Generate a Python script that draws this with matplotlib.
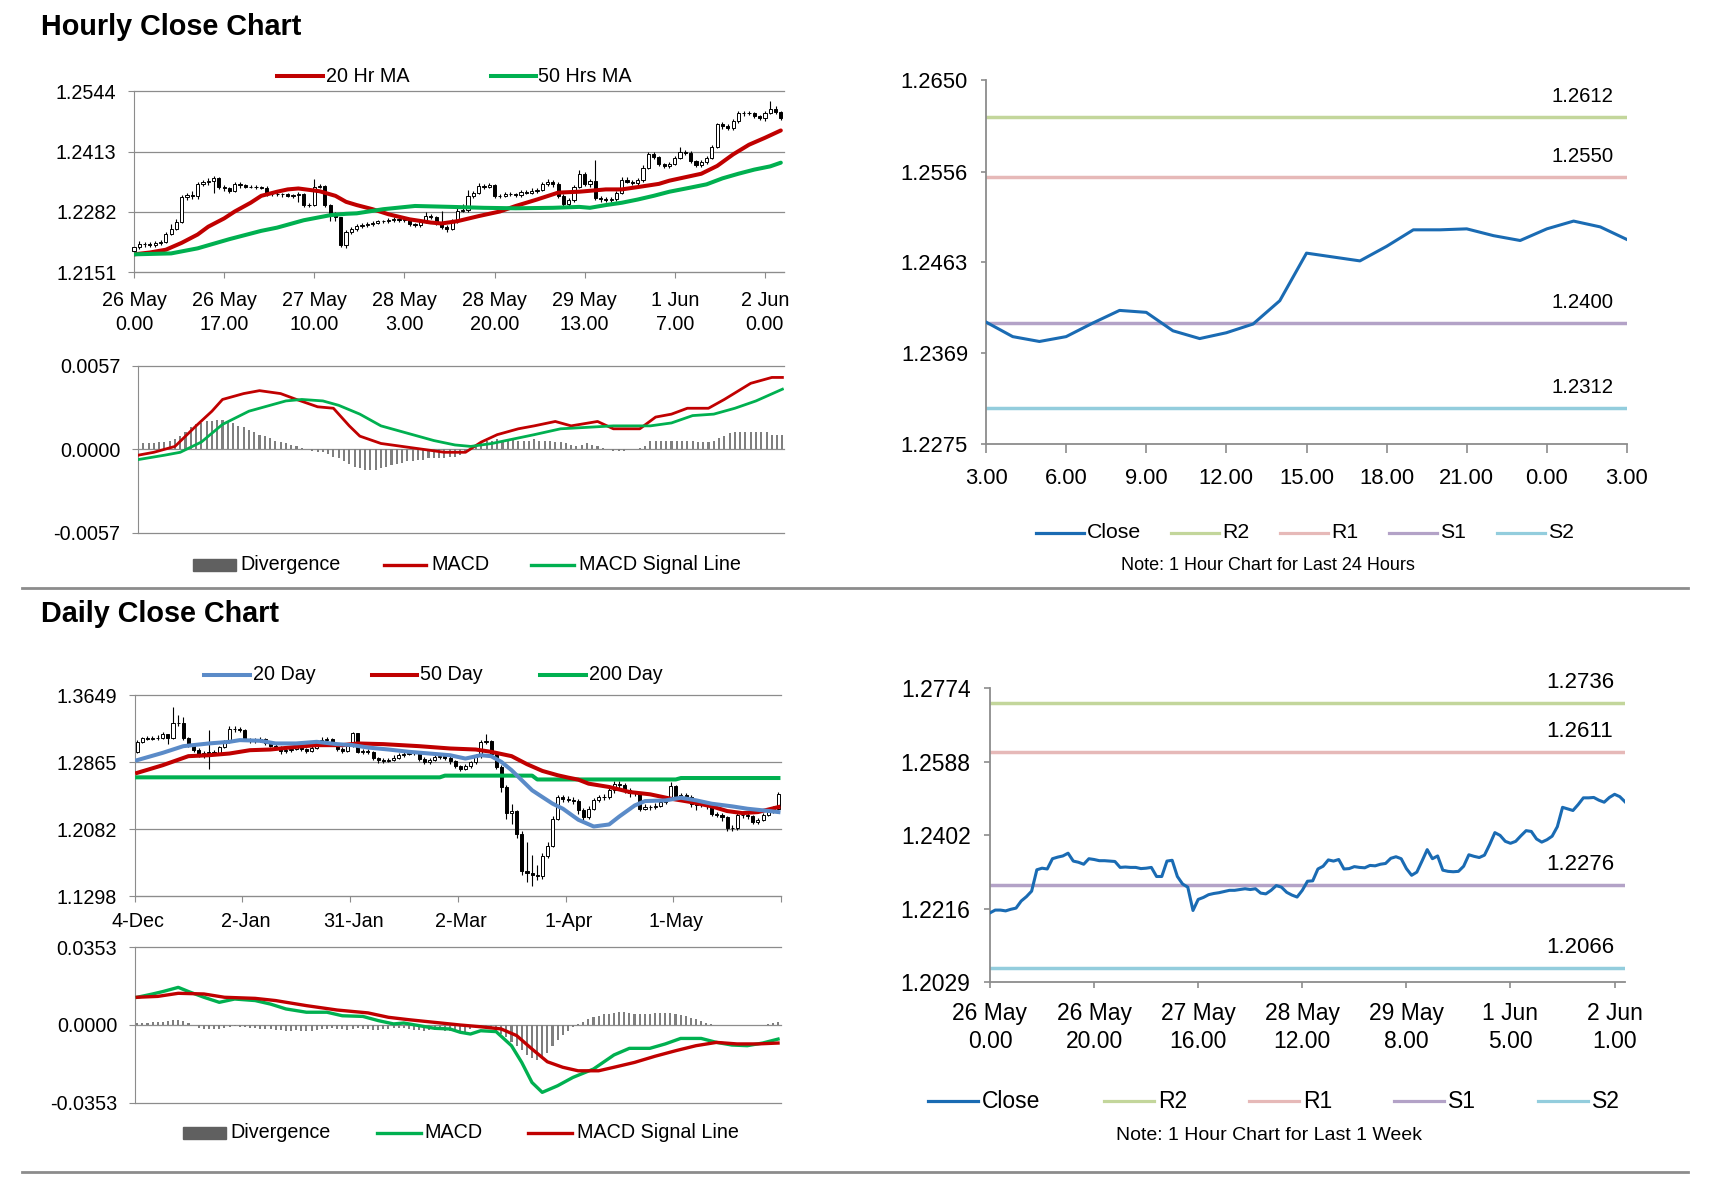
import numpy as np
import matplotlib
matplotlib.use("Agg")
import matplotlib.pyplot as plt
from matplotlib.lines import Line2D
from matplotlib.patches import Rectangle

plt.rcParams['font.family'] = ['Liberation Sans', 'DejaVu Sans']

# -----------------------------
# Hourly candles (26 May 0.00 -> 2 Jun 3.00)
# -----------------------------
hr_open = [
    1.2198, 1.2205, 1.2212, 1.2212, 1.2210, 1.2214, 1.2217, 1.2235, 1.2246, 1.2260,
    1.2314, 1.2318, 1.2316, 1.2342, 1.2346, 1.2349, 1.2356, 1.2336, 1.2333, 1.2328,
    1.2342, 1.2340, 1.2337, 1.2337, 1.2336, 1.2335, 1.2320, 1.2321, 1.2320, 1.2320,
    1.2317, 1.2318, 1.2320, 1.2297, 1.2297, 1.2336, 1.2338, 1.2297, 1.2278, 1.2270,
    1.2211, 1.2239, 1.2244, 1.2251, 1.2254, 1.2256, 1.2259, 1.2262, 1.2262, 1.2264,
    1.2266, 1.2264, 1.2266, 1.2255, 1.2253, 1.2262, 1.2274, 1.2270, 1.2257, 1.2250,
    1.2245, 1.2262, 1.2285, 1.2286, 1.2316, 1.2323, 1.2339, 1.2336, 1.2340, 1.2316,
    1.2317, 1.2322, 1.2320, 1.2319, 1.2325, 1.2324, 1.2328, 1.2330, 1.2343, 1.2347,
    1.2342, 1.2317, 1.2300, 1.2308, 1.2336, 1.2365, 1.2342, 1.2349, 1.2313, 1.2310,
    1.2309, 1.2310, 1.2323, 1.2352, 1.2348, 1.2345, 1.2351, 1.2378, 1.2408, 1.2401,
    1.2386, 1.2381, 1.2386, 1.2400, 1.2413, 1.2411, 1.2392, 1.2384, 1.2390, 1.2399,
    1.2423, 1.2472, 1.2468, 1.2464, 1.2479, 1.2496, 1.2496, 1.2497, 1.2490, 1.2485,
    1.2497, 1.2505, 1.2499]
hr_high = [
    1.2209, 1.2218, 1.2217, 1.2216, 1.2219, 1.2222, 1.2239, 1.2255, 1.2266, 1.2318,
    1.2324, 1.2327, 1.2347, 1.2351, 1.2355, 1.2360, 1.2359, 1.2340, 1.2337, 1.2346,
    1.2346, 1.2343, 1.2341, 1.2340, 1.2339, 1.2338, 1.2325, 1.2325, 1.2324, 1.2323,
    1.2322, 1.2325, 1.2323, 1.2301, 1.2354, 1.2343, 1.2341, 1.2300, 1.2281, 1.2272,
    1.2243, 1.2249, 1.2256, 1.2259, 1.2261, 1.2263, 1.2265, 1.2265, 1.2268, 1.2270,
    1.2269, 1.2270, 1.2268, 1.2258, 1.2266, 1.2282, 1.2278, 1.2273, 1.2284, 1.2253,
    1.2266, 1.2290, 1.2300, 1.2330, 1.2328, 1.2344, 1.2343, 1.2345, 1.2343, 1.2321,
    1.2326, 1.2325, 1.2324, 1.2329, 1.2330, 1.2333, 1.2335, 1.2348, 1.2354, 1.2351,
    1.2346, 1.2320, 1.2312, 1.2340, 1.2374, 1.2368, 1.2354, 1.2394, 1.2317, 1.2314,
    1.2314, 1.2327, 1.2358, 1.2357, 1.2352, 1.2356, 1.2383, 1.2413, 1.2413, 1.2404,
    1.2389, 1.2390, 1.2404, 1.2424, 1.2417, 1.2414, 1.2395, 1.2394, 1.2403, 1.2427,
    1.2476, 1.2477, 1.2472, 1.2484, 1.2501, 1.2501, 1.2502, 1.2500, 1.2493, 1.2502,
    1.2524, 1.2512, 1.2502]
hr_low = [
    1.2193, 1.2201, 1.2206, 1.2205, 1.2206, 1.2210, 1.2214, 1.2232, 1.2243, 1.2257,
    1.2308, 1.2310, 1.2311, 1.2338, 1.2341, 1.2323, 1.2332, 1.2328, 1.2324, 1.2325,
    1.2335, 1.2334, 1.2333, 1.2332, 1.2331, 1.2316, 1.2316, 1.2316, 1.2315, 1.2314,
    1.2313, 1.2304, 1.2293, 1.2292, 1.2294, 1.2333, 1.2293, 1.2262, 1.2262, 1.2206,
    1.2204, 1.2235, 1.2240, 1.2247, 1.2250, 1.2252, 1.2256, 1.2258, 1.2259, 1.2260,
    1.2260, 1.2260, 1.2251, 1.2249, 1.2250, 1.2259, 1.2266, 1.2253, 1.2246, 1.2238,
    1.2242, 1.2259, 1.2281, 1.2283, 1.2312, 1.2320, 1.2332, 1.2333, 1.2312, 1.2313,
    1.2314, 1.2316, 1.2315, 1.2315, 1.2320, 1.2320, 1.2324, 1.2327, 1.2339, 1.2337,
    1.2312, 1.2295, 1.2296, 1.2304, 1.2333, 1.2338, 1.2337, 1.2308, 1.2304, 1.2303,
    1.2303, 1.2306, 1.2320, 1.2344, 1.2340, 1.2341, 1.2348, 1.2375, 1.2397, 1.2381,
    1.2377, 1.2377, 1.2383, 1.2397, 1.2406, 1.2388, 1.2380, 1.2379, 1.2386, 1.2396,
    1.2420, 1.2463, 1.2459, 1.2460, 1.2476, 1.2491, 1.2492, 1.2486, 1.2481, 1.2480,
    1.2494, 1.2495, 1.2481]
hr_close = [
    1.2205, 1.2212, 1.2212, 1.2210, 1.2214, 1.2217, 1.2235, 1.2246, 1.2260, 1.2314,
    1.2318, 1.2316, 1.2342, 1.2346, 1.2349, 1.2356, 1.2336, 1.2333, 1.2328, 1.2342,
    1.2340, 1.2337, 1.2337, 1.2336, 1.2335, 1.2320, 1.2321, 1.2320, 1.2320, 1.2317,
    1.2318, 1.2320, 1.2297, 1.2297, 1.2336, 1.2338, 1.2297, 1.2278, 1.2270, 1.2211,
    1.2239, 1.2244, 1.2251, 1.2254, 1.2256, 1.2259, 1.2262, 1.2262, 1.2264, 1.2266,
    1.2264, 1.2266, 1.2255, 1.2253, 1.2262, 1.2274, 1.2270, 1.2257, 1.2250, 1.2245,
    1.2262, 1.2285, 1.2286, 1.2316, 1.2323, 1.2339, 1.2336, 1.2340, 1.2316, 1.2317,
    1.2322, 1.2320, 1.2319, 1.2325, 1.2324, 1.2328, 1.2330, 1.2343, 1.2347, 1.2342,
    1.2317, 1.2300, 1.2308, 1.2336, 1.2365, 1.2342, 1.2349, 1.2313, 1.2310, 1.2309,
    1.2310, 1.2323, 1.2352, 1.2348, 1.2345, 1.2351, 1.2378, 1.2408, 1.2401, 1.2386,
    1.2381, 1.2386, 1.2400, 1.2413, 1.2411, 1.2392, 1.2384, 1.2390, 1.2399, 1.2423,
    1.2472, 1.2468, 1.2464, 1.2479, 1.2496, 1.2496, 1.2497, 1.2490, 1.2485, 1.2497,
    1.2505, 1.2499, 1.2486]

hr_ticks = [0, 17, 34, 51, 68, 85, 102, 119]
hr_tick_labels = ["26 May\n0.00", "26 May\n17.00", "27 May\n10.00", "28 May\n3.00",
                  "28 May\n20.00", "29 May\n13.00", "1 Jun\n7.00", "2 Jun\n0.00"]
hr_yticks = [1.2151, 1.2282, 1.2413, 1.2544]

ma20_hours = [0, 3, 6, 9, 12, 14, 17, 19, 22, 24, 27, 29, 31, 33, 35, 38, 40, 42, 45, 48, 52,
              56, 58, 61, 65, 69, 72, 76, 80, 84, 89, 92, 95, 99, 101, 105, 107, 110, 113, 116, 119, 122]
ma20_vals = [1.2190, 1.2194, 1.2200, 1.2215, 1.2233, 1.2250, 1.2268, 1.2283, 1.2302, 1.2317,
             1.2326, 1.2331, 1.2333, 1.2330, 1.2327, 1.2317, 1.2304, 1.2297, 1.2288, 1.2277,
             1.2266, 1.2259, 1.2257, 1.2262, 1.2273, 1.2283, 1.2295, 1.2309, 1.2324, 1.2326,
             1.2331, 1.2331, 1.2336, 1.2343, 1.2350, 1.2360, 1.2365, 1.2382, 1.2407, 1.2428,
             1.2443, 1.2459]
ma50_hours = [0, 7, 12, 18, 24, 27, 32, 37, 40, 42, 47, 53, 60, 66, 72, 79, 84, 86, 89, 92,
              95, 98, 101, 105, 108, 111, 114, 117, 120, 122]
ma50_vals = [1.2190, 1.2192, 1.2203, 1.2223, 1.2241, 1.2248, 1.2264, 1.2275, 1.2278, 1.2279,
             1.2288, 1.2295, 1.2293, 1.2291, 1.2290, 1.2291, 1.2293, 1.2291, 1.2297, 1.2302,
             1.2309, 1.2317, 1.2326, 1.2335, 1.2342, 1.2355, 1.2365, 1.2374, 1.2381, 1.2389]

# hourly MACD panel
hr_div = [
    0.0004, 0.0004, 0.0004, 0.0004, 0.0005, 0.0005, 0.0006, 0.0007, 0.0009, 0.0012,
    0.0015, 0.0017, 0.0018, 0.0019, 0.0019, 0.0020, 0.0020, 0.0019, 0.0018, 0.0016,
    0.0015, 0.0013, 0.0012, 0.0010, 0.0009, 0.0008, 0.0006, 0.0005, 0.0004, 0.0003,
    0.0002, 0.0001, 0.0000, -0.0001, -0.0002, -0.0002, -0.0003, -0.0005, -0.0006, -0.0008,
    -0.0010, -0.0012, -0.0013, -0.0014, -0.0014, -0.0014, -0.0013, -0.0012, -0.0011, -0.0010,
    -0.0009, -0.0008, -0.0008, -0.0007, -0.0007, -0.0006, -0.0006, -0.0006, -0.0006, -0.0005,
    -0.0005, -0.0004, -0.0002, 0.0001, 0.0003, 0.0005, 0.0006, 0.0006, 0.0007, 0.0006,
    0.0006, 0.0007, 0.0006, 0.0006, 0.0006, 0.0007, 0.0006, 0.0006, 0.0006, 0.0005,
    0.0005, 0.0004, 0.0003, 0.0002, 0.0003, 0.0004, 0.0003, 0.0002, 0.0001, 0.0000,
    -0.0001, -0.0001, -0.0001, 0.0000, 0.0000, 0.0001, 0.0002, 0.0006, 0.0006, 0.0006,
    0.0006, 0.0006, 0.0006, 0.0006, 0.0006, 0.0006, 0.0005, 0.0005, 0.0005, 0.0006,
    0.0008, 0.0009, 0.0011, 0.0012, 0.0012, 0.0012, 0.0012, 0.0012, 0.0012, 0.0012,
    0.0010, 0.0010, 0.0010]
macd_h_hours = [0, 3, 7, 11, 14, 16, 20, 23, 27, 30, 34, 37, 40, 42, 46, 50, 54, 58, 62, 65,
                68, 72, 75, 79, 82, 87, 90, 95, 98, 101, 104, 108, 111, 116, 120, 122]
macd_h_vals = [-0.0004, -0.0002, 0.0002, 0.0016, 0.0026, 0.0034, 0.0038, 0.0040, 0.0038, 0.0034,
               0.0029, 0.0028, 0.0016, 0.0009, 0.0004, 0.0002, 0.0000, -0.0002, -0.0002, 0.0005,
               0.0010, 0.0014, 0.0016, 0.0019, 0.0016, 0.0019, 0.0014, 0.0014, 0.0022, 0.0024,
               0.0028, 0.0028, 0.0034, 0.0045, 0.0049, 0.0049]
sig_h_hours = [0, 5, 8, 12, 16, 21, 25, 28, 31, 35, 38, 42, 46, 51, 56, 60, 63, 67, 71, 75,
               80, 85, 90, 97, 101, 105, 109, 113, 117, 122]
sig_h_vals = [-0.0007, -0.0004, -0.0002, 0.0005, 0.0017, 0.0026, 0.0030, 0.0033, 0.0034, 0.0033,
              0.0030, 0.0024, 0.0016, 0.0011, 0.0006, 0.0003, 0.0002, 0.0004, 0.0007, 0.0010,
              0.0014, 0.0015, 0.0016, 0.0016, 0.0018, 0.0023, 0.0024, 0.0028, 0.0033, 0.0041]
hr_macd_yticks = [-0.0057, 0.0000, 0.0057]

# -----------------------------
# Daily candles (4-Dec -> early Jun)
# -----------------------------
dy_open = [
    1.2985, 1.3105, 1.3143, 1.3140, 1.3146, 1.3150, 1.3190, 1.3150, 1.3320, 1.3330,
    1.3143, 1.3070, 1.3010, 1.2950, 1.2970, 1.2980, 1.2975, 1.3040, 1.3100, 1.3259,
    1.3250, 1.3240, 1.3130, 1.3110, 1.3120, 1.3135, 1.3095, 1.3060, 1.3045, 1.2995,
    1.3010, 1.3025, 1.3040, 1.3015, 1.3000, 1.3030, 1.3095, 1.3130, 1.3135, 1.3080,
    1.3020, 1.3000, 1.3050, 1.3202, 1.2990, 1.2995, 1.2985, 1.2910, 1.2890, 1.2885,
    1.2895, 1.2920, 1.2950, 1.2965, 1.2975, 1.2970, 1.2908, 1.2870, 1.2895, 1.2925,
    1.2935, 1.2920, 1.2875, 1.2820, 1.2790, 1.2818, 1.2865, 1.2935, 1.3104, 1.3110,
    1.2967, 1.2810, 1.2575, 1.2270, 1.2290, 1.2026, 1.1595, 1.1570, 1.1540, 1.1530,
    1.1771, 1.1889, 1.2203, 1.2457, 1.2440, 1.2425, 1.2415, 1.2300, 1.2220, 1.2320,
    1.2418, 1.2457, 1.2457, 1.2535, 1.2614, 1.2594, 1.2535, 1.2500, 1.2500, 1.2320,
    1.2340, 1.2340, 1.2355, 1.2400, 1.2440, 1.2583, 1.2465, 1.2480, 1.2460, 1.2370,
    1.2360, 1.2380, 1.2350, 1.2260, 1.2250, 1.2220, 1.2100, 1.2090, 1.2250, 1.2250,
    1.2235, 1.2160, 1.2190, 1.2250, 1.2290, 1.2320]
dy_high = [
    1.3130, 1.3165, 1.3170, 1.3175, 1.3180, 1.3215, 1.3200, 1.3516, 1.3420, 1.3400,
    1.3160, 1.3090, 1.3030, 1.2995, 1.3241, 1.3005, 1.3060, 1.3120, 1.3285, 1.3285,
    1.3275, 1.3260, 1.3150, 1.3150, 1.3160, 1.3150, 1.3110, 1.3085, 1.3060, 1.3035,
    1.3050, 1.3070, 1.3060, 1.3035, 1.3050, 1.3115, 1.3160, 1.3165, 1.3150, 1.3095,
    1.3040, 1.3070, 1.3215, 1.3210, 1.3020, 1.3015, 1.3000, 1.2930, 1.2910, 1.2920,
    1.2945, 1.2975, 1.2990, 1.3000, 1.2995, 1.2985, 1.2925, 1.2920, 1.2950, 1.2960,
    1.2955, 1.2940, 1.2890, 1.2835, 1.2840, 1.2885, 1.2960, 1.3125, 1.3200, 1.3130,
    1.2985, 1.2830, 1.2600, 1.2379, 1.2310, 1.2060, 1.1928, 1.1780, 1.1660, 1.1800,
    1.1930, 1.2230, 1.2480, 1.2480, 1.2470, 1.2460, 1.2440, 1.2330, 1.2350, 1.2445,
    1.2485, 1.2490, 1.2565, 1.2647, 1.2650, 1.2620, 1.2560, 1.2530, 1.2520, 1.2370,
    1.2365, 1.2385, 1.2425, 1.2470, 1.2630, 1.2600, 1.2510, 1.2500, 1.2480, 1.2395,
    1.2405, 1.2400, 1.2370, 1.2285, 1.2270, 1.2240, 1.2130, 1.2270, 1.2275, 1.2270,
    1.2250, 1.2215, 1.2275, 1.2320, 1.2350, 1.2515]
dy_low = [
    1.2970, 1.3090, 1.3120, 1.3120, 1.3125, 1.3135, 1.3080, 1.3140, 1.3290, 1.3120,
    1.3040, 1.2990, 1.2930, 1.2920, 1.2791, 1.2950, 1.2960, 1.3030, 1.3090, 1.3220,
    1.3215, 1.3110, 1.3090, 1.3095, 1.3105, 1.3070, 1.3040, 1.3020, 1.2960, 1.2975,
    1.2990, 1.3005, 1.2995, 1.2975, 1.2985, 1.3020, 1.3080, 1.3105, 1.3060, 1.3000,
    1.2975, 1.2985, 1.3040, 1.2970, 1.2965, 1.2960, 1.2890, 1.2860, 1.2860, 1.2865,
    1.2880, 1.2905, 1.2930, 1.2945, 1.2945, 1.2880, 1.2845, 1.2850, 1.2880, 1.2905,
    1.2895, 1.2850, 1.2795, 1.2760, 1.2770, 1.2800, 1.2850, 1.2920, 1.3080, 1.2940,
    1.2780, 1.2520, 1.2200, 1.2144, 1.1980, 1.1540, 1.1458, 1.1420, 1.1480, 1.1500,
    1.1740, 1.1870, 1.2190, 1.2400, 1.2395, 1.2380, 1.2260, 1.2190, 1.2200, 1.2300,
    1.2395, 1.2420, 1.2440, 1.2510, 1.2560, 1.2500, 1.2460, 1.2465, 1.2290, 1.2300,
    1.2310, 1.2315, 1.2335, 1.2380, 1.2420, 1.2440, 1.2440, 1.2430, 1.2340, 1.2300,
    1.2335, 1.2320, 1.2230, 1.2220, 1.2180, 1.2065, 1.2060, 1.2075, 1.2215, 1.2200,
    1.2140, 1.2145, 1.2175, 1.2235, 1.2270, 1.2310]
dy_close = [
    1.3105, 1.3143, 1.3140, 1.3146, 1.3150, 1.3190, 1.3150, 1.3320, 1.3330, 1.3143,
    1.3070, 1.3010, 1.2950, 1.2970, 1.2980, 1.2975, 1.3040, 1.3100, 1.3259, 1.3250,
    1.3240, 1.3130, 1.3110, 1.3120, 1.3135, 1.3095, 1.3060, 1.3045, 1.2995, 1.3010,
    1.3025, 1.3040, 1.3015, 1.3000, 1.3030, 1.3095, 1.3130, 1.3135, 1.3080, 1.3020,
    1.3000, 1.3050, 1.3202, 1.2990, 1.2995, 1.2985, 1.2910, 1.2890, 1.2885, 1.2895,
    1.2920, 1.2950, 1.2965, 1.2975, 1.2970, 1.2908, 1.2870, 1.2895, 1.2925, 1.2935,
    1.2920, 1.2875, 1.2820, 1.2790, 1.2818, 1.2865, 1.2935, 1.3104, 1.3110, 1.2967,
    1.2810, 1.2575, 1.2270, 1.2290, 1.2026, 1.1595, 1.1570, 1.1540, 1.1530, 1.1771,
    1.1889, 1.2203, 1.2457, 1.2440, 1.2425, 1.2415, 1.2300, 1.2220, 1.2320, 1.2418,
    1.2457, 1.2457, 1.2535, 1.2614, 1.2594, 1.2535, 1.2500, 1.2500, 1.2320, 1.2340,
    1.2340, 1.2355, 1.2400, 1.2440, 1.2583, 1.2465, 1.2480, 1.2460, 1.2370, 1.2360,
    1.2380, 1.2350, 1.2260, 1.2250, 1.2220, 1.2100, 1.2090, 1.2250, 1.2250, 1.2235,
    1.2160, 1.2190, 1.2250, 1.2290, 1.2320, 1.2489]

dy_ticks = [0, 21, 42, 63, 84, 105, 126]
dy_tick_labels = ["4-Dec", "2-Jan", "31-Jan", "2-Mar", "1-Apr", "1-May"]
dy_yticks = [1.1298, 1.2082, 1.2865, 1.3649]

d20_days = [0, 5, 9, 14, 18, 20, 24, 27, 31, 35, 39, 42, 45, 49, 53, 57, 61, 64, 67, 69,
            71, 73, 75, 77, 79, 81, 83, 86, 89, 92, 94, 97, 99, 103, 106, 109, 112, 116, 119, 122, 125]
d20_vals = [1.2889, 1.2975, 1.3053, 1.3085, 1.3104, 1.3124, 1.3116, 1.3085, 1.3085, 1.3104,
            1.3077, 1.3065, 1.3037, 1.3014, 1.2987, 1.2967, 1.2947, 1.2908, 1.2947, 1.2936,
            1.2869, 1.2771, 1.2653, 1.2536, 1.2457, 1.2379, 1.2320, 1.2191, 1.2112, 1.2136,
            1.2230, 1.2359, 1.2410, 1.2418, 1.2449, 1.2418, 1.2379, 1.2348, 1.2320, 1.2301,
            1.2281]
d50_days = [0, 5, 10, 14, 18, 22, 26, 31, 35, 40, 43, 48, 55, 61, 66, 69, 73, 76, 79, 82,
            84, 86, 88, 92, 96, 100, 104, 108, 112, 115, 118, 121, 125]
d50_vals = [1.2740, 1.2830, 1.2936, 1.2947, 1.2967, 1.3006, 1.3014, 1.3045, 1.3065, 1.3065,
            1.3085, 1.3077, 1.3053, 1.3026, 1.3014, 1.2987, 1.2936, 1.2842, 1.2763, 1.2712,
            1.2685, 1.2661, 1.2614, 1.2575, 1.2516, 1.2489, 1.2438, 1.2398, 1.2348, 1.2293,
            1.2269, 1.2281, 1.2340]
d200_days = [0, 59, 60, 77, 78, 105, 106, 125]
d200_vals = [1.2688, 1.2688, 1.2708, 1.2708, 1.2663, 1.2663, 1.2680, 1.2680]

# daily MACD panel
dy_div = [
    0.0008, 0.0010, 0.0011, 0.0012, 0.0012, 0.0014, 0.0016, 0.0022, 0.0024, 0.0018,
    0.0008, 0.0000, -0.0012, -0.0016, -0.0018, -0.0020, -0.0018, -0.0012, -0.0008, -0.0006,
    -0.0008, -0.0010, -0.0012, -0.0014, -0.0016, -0.0018, -0.0020, -0.0022, -0.0024, -0.0026,
    -0.0026, -0.0024, -0.0026, -0.0028, -0.0026, -0.0024, -0.0020, -0.0016, -0.0014, -0.0016,
    -0.0020, -0.0024, -0.0018, -0.0014, -0.0018, -0.0020, -0.0022, -0.0022, -0.0020, -0.0018,
    -0.0014, -0.0012, -0.0014, -0.0018, -0.0022, -0.0024, -0.0026, -0.0024, -0.0022, -0.0024,
    -0.0026, -0.0028, -0.0030, -0.0032, -0.0030, -0.0020, -0.0008, -0.0004, -0.0008, -0.0012,
    -0.0025, -0.0040, -0.0055, -0.0075, -0.0095, -0.0115, -0.0135, -0.0150, -0.0160, -0.0150,
    -0.0125, -0.0095, -0.0070, -0.0045, -0.0025, -0.0010, 0.0005, 0.0015, 0.0025, 0.0035,
    0.0042, 0.0048, 0.0052, 0.0055, 0.0058, 0.0058, 0.0055, 0.0052, 0.0050, 0.0050,
    0.0052, 0.0054, 0.0054, 0.0055, 0.0053, 0.0050, 0.0045, 0.0040, 0.0033, 0.0025,
    0.0018, 0.0010, 0.0005, 0.0002, 0.0001, 0.0000, 0.0000, 0.0000, 0.0001, 0.0001,
    0.0000, 0.0001, 0.0002, 0.0006, 0.0010, 0.0014]
macd_d_days = [0, 3, 5, 8, 10, 13, 16, 19, 23, 26, 29, 33, 37, 40, 44, 47, 50, 52, 55, 58,
               61, 63, 65, 67, 70, 73, 75, 77, 79, 82, 85, 89, 93, 96, 100, 103, 106, 110, 113, 116,
               119, 122, 125]
macd_d_vals = [0.0126, 0.0141, 0.0152, 0.0171, 0.0152, 0.0126, 0.0103, 0.0118, 0.0111, 0.0095,
               0.0073, 0.0058, 0.0058, 0.0042, 0.0039, 0.0020, 0.0005, 0.0009, -0.0003, -0.0015,
               -0.0018, -0.0033, -0.0041, -0.0026, -0.0030, -0.0094, -0.0170, -0.0261, -0.0306, -0.0276,
               -0.0238, -0.0200, -0.0136, -0.0106, -0.0106, -0.0086, -0.0061, -0.0061, -0.0079, -0.0091,
               -0.0094, -0.0082, -0.0064]
sig_d_days = [0, 4, 8, 13, 17, 23, 27, 33, 39, 45, 49, 53, 58, 63, 67, 71, 74, 77, 80, 83,
              86, 90, 93, 97, 101, 105, 109, 113, 117, 121, 125]
sig_d_vals = [0.0126, 0.0130, 0.0144, 0.0141, 0.0126, 0.0121, 0.0111, 0.0088, 0.0068, 0.0055,
              0.0035, 0.0024, 0.0012, 0.0000, -0.0008, -0.0018, -0.0048, -0.0109, -0.0167, -0.0192,
              -0.0208, -0.0208, -0.0192, -0.0170, -0.0142, -0.0117, -0.0094, -0.0079, -0.0086, -0.0086,
              -0.0082]
dy_macd_yticks = [-0.0353, 0.0000, 0.0353]

# -----------------------------
# Pivot charts
# -----------------------------
last24_close = [1.2401, 1.2386, 1.2381, 1.2386, 1.2400, 1.2413, 1.2411, 1.2392, 1.2384, 1.2390,
                1.2399, 1.2423, 1.2472, 1.2468, 1.2464, 1.2479, 1.2496, 1.2496, 1.2497, 1.2490,
                1.2485, 1.2497, 1.2505, 1.2499, 1.2486]
last24_labels = ["3.00", "6.00", "9.00", "12.00", "15.00", "18.00", "21.00", "0.00", "3.00"]
last24_yticks = [1.2275, 1.2369, 1.2463, 1.2556, 1.2650]
levels_24 = {"R2": 1.2612, "R1": 1.2550, "S1": 1.2400, "S2": 1.2312}

week_labels = ["26 May\n0.00", "26 May\n20.00", "27 May\n16.00", "28 May\n12.00",
               "29 May\n8.00", "1 Jun\n5.00", "2 Jun\n1.00"]
week_yticks = [1.2029, 1.2216, 1.2402, 1.2588, 1.2774]
levels_wk = {"R2": 1.2736, "R1": 1.2611, "S1": 1.2276, "S2": 1.2066}

RED = '#C00000'
GREEN = '#00B050'
BLUE20 = '#5B8BC8'
CLOSE_BLUE = '#1A6BB3'
LEVEL_COL = {"R2": '#C3D69B', "R1": '#E6B9B8', "S1": '#B3A2C7', "S2": '#93CDDD'}
GRID = '#8C8C8C'
DIV = '#7F7F7F'

W, H = 1711, 1178
fig = plt.figure(figsize=(W / 100, H / 100), dpi=100)


def fx(x):
    return x / W


def fy(y):
    return 1 - y / H


def box(l, t, r, b):
    return fig.add_axes([l / W, 1 - b / H, (r - l) / W, (b - t) / H])


def left_y(ax, ticks, size=14.2):
    ax.set_yticks(ticks)
    ax.set_yticklabels([f"{v:.4f}" for v in ticks])
    ax.set_ylim(ticks[0], ticks[-1])
    ax.tick_params(axis='y', length=4.3, color=GRID, pad=8.3, labelsize=size)
    ax.yaxis.grid(True, color=GRID, lw=0.9)
    for gl in ax.get_ygridlines():
        gl.set_clip_on(False)
    ax.set_axisbelow(True)
    for s in ['top', 'right']:
        ax.spines[s].set_visible(False)
    ax.spines['left'].set_color(GRID)
    ax.spines['bottom'].set_color(GRID)


def candles(ax, x, o, h, l, c, width):
    o, h, l, c = map(np.array, (o, h, l, c))
    ax.vlines(x, l, h, color='black', lw=0.8, zorder=2, clip_on=False)
    up = c >= o
    ax.bar(x, np.abs(c - o), width, np.minimum(o, c),
           color=np.where(up, 'white', 'black'), edgecolor='black', lw=0.7,
           zorder=3, clip_on=False)


def leg_line(x0, x1, y, color, lw, text, tx, size):
    fig.add_artist(Line2D([fx(x0), fx(x1)], [fy(y), fy(y)], color=color, lw=lw,
                          transform=fig.transFigure))
    fig.text(fx(tx), fy(y), text, ha='left', va='center', fontsize=size)


def leg_rect(x0, x1, y, h, text, tx, size):
    fig.add_artist(Rectangle((fx(x0), fy(y + h / 2)), (x1 - x0) / W, h / H,
                             color='#606060', transform=fig.transFigure))
    fig.text(fx(tx), fy(y), text, ha='left', va='center', fontsize=size)


# -----------------------------
# Hourly price chart
# -----------------------------
ax1 = box(134, 91.3, 784, 272.3)
xh = np.arange(len(hr_close))
candles(ax1, xh, hr_open, hr_high, hr_low, hr_close, 0.6)
ax1.plot(ma20_hours, ma20_vals, color=RED, lw=2.9, zorder=4, solid_capstyle='round')
ax1.plot(ma50_hours, ma50_vals, color=GREEN, lw=2.9, zorder=4, solid_capstyle='round')
left_y(ax1, hr_yticks)
ax1.set_xlim(0, 122.6)
ax1.set_xticks(hr_ticks)
ax1.set_xticklabels(hr_tick_labels, fontsize=14.2, linespacing=1.32)
ax1.tick_params(axis='x', length=4.3, color=GRID, pad=9.5)

fig.text(fx(41), fy(35), "Hourly Close Chart", fontsize=20.7, fontweight='bold', va='baseline')
leg_line(277, 323, 76, RED, 2.9, "20 Hr MA", 326, 14.2)
leg_line(491, 536, 76, GREEN, 2.9, "50 Hrs MA", 538, 14.2)

# hourly MACD
ax2 = box(138, 365.7, 784, 533)
ax2.bar(xh, hr_div, 0.4, color=DIV, zorder=1)
ax2.plot(macd_h_hours, macd_h_vals, color=RED, lw=2.0, zorder=3)
ax2.plot(sig_h_hours, sig_h_vals, color=GREEN, lw=2.0, zorder=3)
left_y(ax2, hr_macd_yticks)
ax2.spines['bottom'].set_visible(False)
ax2.set_xlim(0, 122.3)
ax2.set_xticks([])
leg_rect(193, 236, 565, 12.7, "Divergence", 240, 14.2)
leg_line(384, 426, 565, RED, 2.4, "MACD", 431, 14.2)
leg_line(531, 574, 565, GREEN, 2.4, "MACD Signal Line", 579, 14.2)


def pivot_axes(ax, x, close, xticks, xlabels, yticks, levels, lab_x, tick_size, lev_size,
               xlen, ylen, xpad, ypad, lsp):
    for name, lv in levels.items():
        ax.axhline(lv, color=LEVEL_COL[name], lw=2.5, zorder=1)
        ax.annotate(f"{lv:.4f}", xy=(lab_x, lv), xycoords=ax.get_yaxis_transform(),
                    xytext=(0, 14.8), textcoords='offset points', ha='center', va='center',
                    fontsize=lev_size)
    ax.plot(x, close, color=CLOSE_BLUE, lw=2.2, zorder=3)
    ax.set_ylim(yticks[0], yticks[-1])
    ax.set_yticks(yticks)
    ax.set_yticklabels([f"{v:.4f}" for v in yticks])
    ax.set_xticks(xticks)
    ax.set_xticklabels(xlabels, linespacing=lsp)
    ax.tick_params(axis='y', length=ylen, color=GRID, width=1.2, pad=ypad, labelsize=tick_size)
    ax.tick_params(axis='x', length=xlen, color=GRID, width=1.2, pad=xpad, labelsize=tick_size)
    for s in ['top', 'right']:
        ax.spines[s].set_visible(False)
    for s in ['left', 'bottom']:
        ax.spines[s].set_color(GRID)
        ax.spines[s].set_linewidth(1.3)


# last 24 hours
ax3 = box(986, 80.3, 1627, 444.4)
pivot_axes(ax3, np.arange(len(last24_close)), last24_close, list(range(0, 25, 3)),
           last24_labels, last24_yticks, levels_24, 0.931, 15.8, 14.7, 6.3, 3.4, 11.0, 9.5, 1.2)
ax3.set_xlim(0, 24)
for name, x0 in zip(["Close", "R2", "R1", "S1", "S2"], [1036, 1171, 1280, 1389, 1497]):
    col = CLOSE_BLUE if name == "Close" else LEVEL_COL[name]
    leg_line(x0, x0 + 48, 533, col, 2.3, name, x0 + 51, 15.3)
fig.text(fx(1268), fy(566), "Note: 1 Hour Chart for Last 24 Hours", ha='center', va='center',
         fontsize=13)

# separator
fig.add_artist(Line2D([fx(22), fx(1688)], [fy(588), fy(588)], color=GRID, lw=2.0,
                      transform=fig.transFigure))

# -----------------------------
# Daily price chart
# -----------------------------
ax4 = box(134.5, 695.3, 781, 896)
xd = np.arange(len(dy_close)) + 0.5
candles(ax4, xd, dy_open, dy_high, dy_low, dy_close, 0.6)
ax4.plot(np.array(d200_days) + 0.5, d200_vals, color=GREEN, lw=2.9, zorder=4)
ax4.plot(np.array(d50_days) + 0.5, d50_vals, color=RED, lw=2.9, zorder=4)
ax4.plot(np.array(d20_days) + 0.5, d20_vals, color=BLUE20, lw=2.9, zorder=5)
left_y(ax4, dy_yticks)
ax4.set_xlim(0, 126)
ax4.set_xticks(dy_ticks)
ax4.set_xticklabels([])
ax4.set_xticks(np.array(dy_ticks[:-1]) + 0.6, minor=True)
ax4.set_xticklabels(dy_tick_labels, minor=True, fontsize=14.2)
ax4.tick_params(axis='x', which='major', length=4.3, color=GRID)
ax4.tick_params(axis='x', which='minor', length=0, pad=11.3)

fig.text(fx(41), fy(622), "Daily Close Chart", fontsize=20.7, fontweight='bold', va='baseline')
leg_line(204, 250, 675, BLUE20, 2.9, "20 Day", 253, 14.2)
leg_line(372, 417, 675, RED, 2.9, "50 Day", 420, 14.2)
leg_line(540, 586, 675, GREEN, 2.9, "200 Day", 589, 14.2)

# daily MACD
ax5 = box(134.7, 947.3, 780.6, 1102.7)
ax5.bar(xd, dy_div, 0.4, color=DIV, zorder=1)
ax5.plot(np.array(macd_d_days) + 0.5, macd_d_vals, color=GREEN, lw=2.4, zorder=3)
ax5.plot(np.array(sig_d_days) + 0.5, sig_d_vals, color=RED, lw=2.4, zorder=3)
left_y(ax5, dy_macd_yticks)
ax5.spines['bottom'].set_visible(False)
ax5.set_xlim(0, 126)
ax5.set_xticks([])
leg_rect(183, 226, 1133, 12.7, "Divergence", 230, 14.2)
leg_line(377, 421, 1133, GREEN, 2.4, "MACD", 424, 14.2)
leg_line(528, 572, 1133, RED, 2.4, "MACD Signal Line", 577, 14.2)

# last week
ax6 = box(990, 688, 1625, 982.4)
pivot_axes(ax6, np.arange(len(hr_close)), hr_close, list(range(0, 121, 20)), week_labels,
           week_yticks, levels_wk, 0.929, 16.5, 16, 4.0, 4.0, 10.0, 10.0, 1.3)
ax6.set_xlim(0, 122)
for name, x0 in zip(["Close", "R2", "R1", "S1", "S2"], [928, 1104, 1249, 1394, 1538]):
    col = CLOSE_BLUE if name == "Close" else LEVEL_COL[name]
    leg_line(x0, x0 + 50, 1101, col, 2.3, name, x0 + 54, 16.5)
fig.text(fx(1269), fy(1136), "Note: 1 Hour Chart for Last 1 Week", ha='center', va='center',
         fontsize=14)

fig.add_artist(Line2D([fx(22), fx(1688)], [fy(1172), fy(1172)], color=GRID, lw=2.0,
                      transform=fig.transFigure))

fig.savefig("out.png", dpi=100)
